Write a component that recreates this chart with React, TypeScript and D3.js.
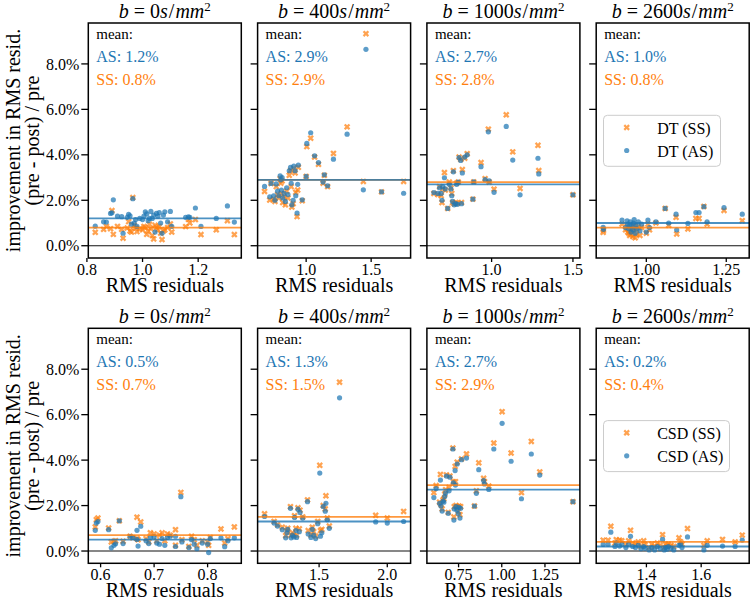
import React from 'react';
import * as d3 from 'd3';

// ---------- data ----------
const bValues = [0, 400, 1000, 2600];
const rowModels = ['DT', 'CSD'];
const meanAS = [[1.2, 2.9, 2.7, 1.0], [0.5, 1.3, 2.7, 0.2]];
const meanSS = [[0.8, 2.9, 2.8, 0.8], [0.7, 1.5, 2.9, 0.4]];
const xTicks = [
  [[0.8, 1.0, 1.2], [1.0, 1.5], [1.0, 1.5], [1.0, 1.25]],
  [[0.6, 0.7, 0.8], [1.5, 2.0], [0.75, 1.0, 1.25], [1.4, 1.6]],
];
const xTickDecimals = [[1, 1, 1, 2], [1, 1, 2, 1]];
const yTicks = [0, 2, 4, 6, 8];

// DT, b=0
const dtB0Rms = [0.83, 0.86, 0.87, 0.885, 0.89, 0.895, 0.91, 0.925, 0.93, 0.945, 0.95, 0.955, 0.96, 0.965, 0.97, 0.975, 0.98, 0.99, 1.0, 1.005, 1.01, 1.015, 1.02, 1.025, 1.03, 1.035, 1.04, 1.045, 1.05, 1.055, 1.06, 1.065, 1.07, 1.075, 1.08, 1.09, 1.1, 1.105, 1.155, 1.165, 1.17, 1.19, 1.21, 1.265, 1.305, 1.33];
const dtB0AS = [0.86, 1.05, 1.04, 1.42, 1.45, 2.02, 1.3, 1.28, 0.55, 1.25, 1.38, 1.32, 0.95, 2.07, 1.0, 1.15, 0.85, 1.2, 1.15, 1.3, 1.49, 1.4, 1.1, 1.2, 1.51, 1.2, 1.35, 0.6, 1.42, 1.3, 1.46, 1.0, 0.55, 1.35, 1.49, 1.05, 1.51, 0.85, 1.25, 1.27, 1.25, 1.66, 0.85, 1.2, 1.75, 1.04];
const dtB0SS = [0.59, 0.72, 0.85, 0.75, 1.55, 0.5, 0.85, 0.72, 0.33, 0.78, 1.06, 0.65, 0.6, 2.12, 0.9, 0.78, 0.62, 0.75, 0.7, 0.85, 0.8, 0.5, 0.65, 0.95, 0.75, 0.45, 0.3, 0.9, 0.8, 0.7, 0.85, 0.55, 0.27, 0.65, 0.7, 0.8, 0.96, 0.6, 0.84, 1.16, 1.0, 1.15, 0.49, 0.7, 1.1, 0.49];

// DT, b=400
const dtB400Rms = [0.68, 0.72, 0.73, 0.75, 0.76, 0.77, 0.78, 0.79, 0.8, 0.805, 0.81, 0.815, 0.82, 0.83, 0.84, 0.85, 0.86, 0.87, 0.88, 0.885, 0.89, 0.9, 0.905, 0.915, 0.92, 0.93, 0.935, 0.94, 0.97, 1.0, 1.005, 1.035, 1.065, 1.095, 1.13, 1.14, 1.165, 1.21, 1.315, 1.44, 1.46, 1.58, 1.75];
const dtB400AS = [2.61, 2.15, 2.74, 2.2, 2.0, 2.72, 2.4, 2.2, 3.08, 2.9, 2.45, 3.0, 2.1, 2.3, 1.95, 2.55, 2.25, 3.3, 3.45, 2.75, 1.8, 2.0, 3.5, 3.3, 2.2, 1.44, 2.7, 3.55, 2.02, 3.05, 4.5, 4.97, 3.96, 3.66, 2.8, 3.12, 2.64, 3.81, 4.91, 2.46, 8.64, 2.37, 2.31];
const dtB400SS = [2.39, 2.01, 2.74, 2.05, 1.95, 2.6, 2.25, 2.1, 2.95, 2.75, 2.3, 2.85, 1.9, 2.15, 1.8, 2.4, 2.1, 3.1, 3.3, 2.6, 1.7, 1.85, 3.4, 3.2, 2.35, 1.28, 2.45, 3.45, 1.98, 3.05, 4.36, 4.73, 3.9, 3.58, 2.75, 3.1, 2.6, 4.06, 5.23, 2.83, 9.33, 2.37, 2.83];

// DT, b=1000
const dtB1000Rms = [0.645, 0.67, 0.68, 0.69, 0.695, 0.7, 0.71, 0.715, 0.73, 0.74, 0.75, 0.755, 0.76, 0.765, 0.77, 0.78, 0.785, 0.79, 0.795, 0.8, 0.81, 0.815, 0.82, 0.835, 0.85, 0.885, 0.89, 0.935, 0.96, 0.98, 0.985, 1.015, 1.09, 1.13, 1.175, 1.285, 1.29, 1.5];
const dtB1000AS = [2.34, 2.3, 2.55, 2.3, 2.0, 2.6, 2.99, 2.5, 1.64, 2.7, 2.5, 2.2, 1.95, 3.25, 1.8, 1.85, 2.7, 1.82, 2.8, 3.88, 3.75, 1.85, 3.2, 3.9, 4.0, 2.05, 2.81, 3.48, 2.91, 5.01, 2.85, 2.35, 5.25, 3.77, 2.24, 3.85, 3.16, 2.24];
const dtB1000SS = [2.3, 2.25, 2.6, 2.2, 1.9, 2.5, 3.22, 2.45, 1.64, 2.8, 2.55, 2.3, 1.9, 3.3, 1.85, 1.9, 2.75, 1.87, 2.8, 3.9, 3.8, 1.9, 3.35, 3.85, 4.05, 2.05, 2.81, 3.66, 2.95, 5.13, 2.8, 2.49, 5.76, 4.13, 2.52, 4.42, 3.31, 2.24];

// DT, b=2600
const dtB2600Rms = [0.865, 0.866, 0.924, 0.935, 0.94, 0.942, 0.945, 0.948, 0.95, 0.952, 0.955, 0.958, 0.96, 0.962, 0.965, 0.968, 0.97, 0.975, 0.98, 0.985, 1.0, 1.005, 1.01, 1.03, 1.059, 1.07, 1.093, 1.095, 1.13, 1.155, 1.165, 1.18, 1.19, 1.243, 1.3];
const dtB2600AS = [0.81, 0.72, 1.13, 0.8, 1.1, 0.95, 0.75, 0.9, 1.05, 0.6, 0.85, 0.7, 1.0, 1.15, 0.55, 0.9, 0.75, 1.05, 0.65, 0.95, 0.6, 1.13, 0.8, 1.05, 1.64, 1.0, 1.39, 0.7, 0.98, 1.46, 1.46, 1.72, 1.05, 1.68, 1.39];
const dtB2600SS = [0.59, 0.68, 0.95, 0.7, 0.85, 0.6, 0.55, 0.45, 0.8, 0.5, 0.65, 0.4, 0.75, 0.9, 0.35, 0.7, 0.5, 0.85, 0.45, 0.8, 0.55, 0.95, 0.7, 1.0, 1.64, 0.9, 1.25, 0.52, 0.74, 1.2, 1.2, 1.73, 0.95, 1.55, 1.1];

// CSD, b=0
const csdB0Rms = [0.59, 0.592, 0.595, 0.615, 0.62, 0.625, 0.628, 0.635, 0.642, 0.655, 0.66, 0.668, 0.668, 0.67, 0.675, 0.685, 0.69, 0.693, 0.7, 0.705, 0.71, 0.715, 0.72, 0.725, 0.73, 0.74, 0.74, 0.75, 0.752, 0.765, 0.77, 0.775, 0.78, 0.79, 0.8, 0.802, 0.805, 0.825, 0.832, 0.838, 0.85];
const csdB0AS = [0.91, 1.23, 1.3, 0.94, 0.14, 0.25, 0.32, 1.33, 0.33, 0.65, 0.6, 0.91, 0.51, 0.22, 1.09, 0.45, 0.33, 0.6, 0.62, 0.35, 0.3, 0.55, 0.25, 0.6, 0.65, 0.65, 0.2, 2.39, 0.4, 0.15, 0.5, 0.3, 0.1, 0.35, 0.3, -0.07, 0.55, 0.58, 0.19, 0.45, 0.58];
const csdB0SS = [1.06, 1.38, 1.45, 1.01, 0.4, 0.42, 0.45, 1.33, 0.43, 0.65, 0.58, 1.49, 0.55, 0.5, 1.28, 0.55, 0.4, 0.8, 0.75, 0.45, 0.7, 0.8, 0.45, 0.75, 0.7, 0.94, 0.25, 2.58, 0.5, 0.2, 0.65, 0.5, 0.25, 0.45, 0.4, 0.25, 0.6, 0.97, 0.35, 0.55, 1.06];

// CSD, b=400
const csdB400Rms = [1.1, 1.17, 1.195, 1.23, 1.255, 1.265, 1.27, 1.29, 1.295, 1.305, 1.315, 1.32, 1.33, 1.335, 1.345, 1.355, 1.36, 1.38, 1.415, 1.42, 1.44, 1.45, 1.46, 1.475, 1.49, 1.505, 1.51, 1.52, 1.53, 1.545, 1.55, 1.56, 1.575, 1.65, 1.915, 2.0, 2.12];
const csdB400AS = [1.52, 1.23, 1.1, 0.94, 0.58, 0.8, 0.95, 1.88, 0.58, 0.7, 0.62, 1.48, 0.9, 0.6, 1.84, 0.85, 1.7, 1.45, 2.17, 0.75, 0.6, 0.95, 0.7, 0.55, 1.2, 3.43, 0.65, 0.8, 1.96, 1.75, 2.1, 1.38, 1.0, 6.74, 1.28, 1.23, 1.3];
const csdB400SS = [1.64, 1.3, 1.15, 1.05, 0.68, 0.9, 1.0, 1.95, 0.7, 0.8, 0.68, 1.55, 1.0, 0.7, 1.9, 0.98, 1.8, 1.5, 2.25, 0.9, 0.7, 1.05, 0.85, 0.65, 1.3, 3.77, 0.9, 0.95, 2.0, 1.85, 2.43, 1.45, 1.1, 7.43, 1.57, 1.45, 1.74];

// CSD, b=1000
const csdB1000Rms = [0.607, 0.62, 0.64, 0.645, 0.648, 0.655, 0.66, 0.665, 0.67, 0.675, 0.68, 0.69, 0.695, 0.7, 0.717, 0.72, 0.723, 0.725, 0.73, 0.732, 0.735, 0.74, 0.742, 0.748, 0.752, 0.758, 0.762, 0.767, 0.796, 0.842, 0.853, 0.867, 0.895, 0.9, 0.925, 0.954, 1.002, 1.054, 1.114, 1.171, 1.22, 1.412];
const csdB1000AS = [2.35, 2.75, 2.1, 3.12, 1.98, 1.76, 2.2, 2.15, 2.4, 2.55, 3.3, 1.66, 2.65, 3.25, 4.49, 3.0, 1.36, 1.85, 3.54, 2.9, 1.95, 1.8, 3.83, 1.65, 1.92, 1.45, 1.88, 4.02, 4.09, 1.98, 2.54, 3.58, 3.1, 2.95, 2.71, 4.49, 5.62, 3.95, 2.3, 4.27, 3.34, 2.17];
const csdB1000SS = [2.57, 2.88, 2.15, 3.37, 2.05, 1.85, 2.25, 2.3, 2.5, 2.7, 3.35, 1.7, 2.8, 3.3, 4.53, 3.05, 1.5, 1.95, 3.72, 3.05, 2.0, 1.95, 3.91, 1.75, 1.98, 1.6, 1.95, 4.05, 4.27, 1.98, 2.65, 3.88, 3.2, 3.05, 2.86, 4.75, 6.13, 4.31, 2.57, 4.82, 3.48, 2.17];

// CSD, b=2600
const csdB2600Rms = [1.242, 1.26, 1.27, 1.285, 1.29, 1.302, 1.31, 1.325, 1.335, 1.342, 1.35, 1.36, 1.37, 1.38, 1.39, 1.395, 1.41, 1.42, 1.43, 1.44, 1.45, 1.459, 1.465, 1.47, 1.475, 1.48, 1.49, 1.5, 1.519, 1.525, 1.53, 1.55, 1.61, 1.622, 1.678, 1.724, 1.75];
const csdB2600AS = [0.29, 0.3, 0.83, 0.2, 0.35, 0.22, 0.3, 0.15, 0.3, 0.65, 0.2, 0.15, 0.25, 0.1, 0.2, 0.12, 0.05, 0.15, 0.05, 0.2, 0.1, 0.51, 0.05, 0.15, 0.08, 0.2, 0.12, 0.05, 0.25, 0.3, 0.15, 0.62, 0.05, 0.25, 0.22, 0.2, 0.48];
const csdB2600SS = [0.48, 0.48, 1.09, 0.35, 0.5, 0.48, 0.45, 0.3, 0.45, 0.91, 0.35, 0.3, 0.4, 0.2, 0.45, 0.28, 0.15, 0.3, 0.2, 0.35, 0.25, 0.72, 0.15, 0.3, 0.2, 0.3, 0.25, 0.2, 0.58, 0.4, 0.3, 0.99, 0.25, 0.45, 0.51, 0.4, 0.7];

const panelRms = [
  [dtB0Rms, dtB400Rms, dtB1000Rms, dtB2600Rms],
  [csdB0Rms, csdB400Rms, csdB1000Rms, csdB2600Rms],
];
const panelAS = [
  [dtB0AS, dtB400AS, dtB1000AS, dtB2600AS],
  [csdB0AS, csdB400AS, csdB1000AS, csdB2600AS],
];
const panelSS = [
  [dtB0SS, dtB400SS, dtB1000SS, dtB2600SS],
  [csdB0SS, csdB400SS, csdB1000SS, csdB2600SS],
];

// ---------- layout ----------
const W = 750;
const H = 600;
const panelLeft0 = 88.3;
const panelStep = 169.3;
const panelW = 153;
const rowTops = [23, 328.3];
const panelH = 235;
const BLUE = '#1f77b4';
const ORANGE = '#ff7f0e';
const FONT =
  "'Liberation Serif', 'DejaVu Serif', 'Tinos', 'Noto Serif', 'FreeSerif', 'Nimbus Roman', 'Times New Roman', Times, serif";
const fontStyle = { fontFamily: FONT };

function padDomain(vals: number[]): [number, number] {
  const [lo, hi] = d3.extent(vals) as [number, number];
  const m = (hi - lo) * 0.05;
  return [lo - m, hi + m];
}

const allY: number[] = [];
panelAS.forEach((r) => r.forEach((a) => allY.push(...a)));
panelSS.forEach((r) => r.forEach((a) => allY.push(...a)));
const yDomain = padDomain(allY);

const xPath = d3.symbol().type(d3.symbolCross).size(26)() as string;

function Title({ cx, y, b }: { cx: number; y: number; b: number }) {
  return (
    <text x={cx} y={y} textAnchor="middle" fontSize={20} style={fontStyle}>
      <tspan fontStyle="italic">b</tspan>
      <tspan dx={5}>=</tspan>
      <tspan dx={5}>{b}</tspan>
      <tspan fontStyle="italic">s</tspan>
      <tspan dx={1}>/</tspan>
      <tspan dx={1} fontStyle="italic">mm</tspan>
      <tspan dy={-7} fontSize={13}>2</tspan>
    </text>
  );
}

function Panel({ row, col }: { row: number; col: number }) {
  const left = panelLeft0 + col * panelStep;
  const top = rowTops[row];
  const rms = panelRms[row][col];
  const as = panelAS[row][col];
  const ss = panelSS[row][col];
  const x = d3.scaleLinear().domain(padDomain(rms)).range([left, left + panelW]);
  const y = d3.scaleLinear().domain(yDomain).range([top + panelH, top]);
  const dec = xTickDecimals[row][col];
  const fmtX = d3.format(`.${dec}f`);
  const fmtY = (v: number) => d3.format('.1f')(v) + '%';
  const bottom = top + panelH;
  const model = rowModels[row];
  const legW = 54 + 9 * (model.length + 5);
  return (
    <g>
      <defs>
        <clipPath id={`clip-${row}-${col}`}>
          <rect x={left} y={top} width={panelW} height={panelH} />
        </clipPath>
      </defs>
      <Title cx={left + panelW / 2} y={top - 5} b={bValues[col]} />
      <g clipPath={`url(#clip-${row}-${col})`}>
        <line x1={left} x2={left + panelW} y1={y(0)} y2={y(0)} stroke="#111" strokeWidth={1.1} />
        {rms.map((r, i) => (
          <path key={`s${i}`} d={xPath} transform={`translate(${x(r)},${y(ss[i])}) rotate(45)`} fill={ORANGE} fillOpacity={0.72} />
        ))}
        {rms.map((r, i) => (
          <circle key={`a${i}`} cx={x(r)} cy={y(as[i])} r={2.6} fill={BLUE} fillOpacity={0.72} />
        ))}
        <line x1={left} x2={left + panelW} y1={y(meanSS[row][col])} y2={y(meanSS[row][col])} stroke={ORANGE} strokeWidth={1.8} strokeOpacity={0.8} />
        <line x1={left} x2={left + panelW} y1={y(meanAS[row][col])} y2={y(meanAS[row][col])} stroke={BLUE} strokeWidth={1.8} strokeOpacity={0.8} />
      </g>
      <rect x={left} y={top} width={panelW} height={panelH} fill="none" stroke="#000" strokeWidth={1.5} />
      {yTicks.map((t) => (
        <g key={`yt${t}`}>
          <line x1={left - 7} x2={left} y1={y(t)} y2={y(t)} stroke="#000" strokeWidth={1.3} />
          {col === 0 && (
            <text x={left - 9} y={y(t)} dy="0.35em" textAnchor="end" fontSize={16} style={fontStyle}>
              {fmtY(t)}
            </text>
          )}
        </g>
      ))}
      {xTicks[row][col].map((t) => (
        <g key={`xt${t}`}>
          <line x1={x(t)} x2={x(t)} y1={bottom} y2={bottom + 4} stroke="#000" strokeWidth={1.3} />
          <text x={x(t)} y={bottom + 17} textAnchor="middle" fontSize={16} style={fontStyle}>
            {fmtX(t)}
          </text>
        </g>
      ))}
      <text x={left + panelW / 2} y={bottom + 34} textAnchor="middle" fontSize={20} style={fontStyle}>
        RMS residuals
      </text>
      <text x={left + 8} y={top + 15.5} fontSize={15} style={fontStyle} fill="#000">mean:</text>
      <text x={left + 8} y={top + 38.7} fontSize={16} style={fontStyle} fill={BLUE}>
        {`AS: ${meanAS[row][col].toFixed(1)}%`}
      </text>
      <text x={left + 8} y={top + 62} fontSize={16} style={fontStyle} fill={ORANGE}>
        {`SS: ${meanSS[row][col].toFixed(1)}%`}
      </text>
      {col === 3 && (
        <g>
          <rect x={left + 7.3} y={top + 92.3} width={legW} height={51} rx={4} fill="#fff" fillOpacity={0.8} stroke="#ccc" strokeWidth={1} />
          <path d={xPath} transform={`translate(${left + 30.5},${top + 104.5}) rotate(45)`} fill={ORANGE} fillOpacity={0.72} />
          <text x={left + 61} y={top + 110.5} fontSize={16} style={fontStyle}>{`${model} (SS)`}</text>
          <circle cx={left + 30.5} cy={top + 127.5} r={2.6} fill={BLUE} fillOpacity={0.72} />
          <text x={left + 61} y={top + 133.5} fontSize={16} style={fontStyle}>{`${model} (AS)`}</text>
        </g>
      )}
    </g>
  );
}

export default function App() {
  return (
    <svg width={W} height={H} style={{ position: 'absolute', left: 0, top: 0, background: '#fff' }}>
      <rect x={0} y={0} width={W} height={H} fill="#fff" />
      {[0, 1].map((row) => (
        <g key={row}>
          {[0, 1, 2, 3].map((col) => (
            <Panel key={col} row={row} col={col} />
          ))}
          <text
            transform={`translate(20,${rowTops[row] + panelH / 2}) rotate(-90)`}
            textAnchor="middle"
            fontSize={20}
            style={fontStyle}
          >
            improvement in RMS resid.
          </text>
          <text
            transform={`translate(39,${rowTops[row] + panelH / 2}) rotate(-90)`}
            textAnchor="middle"
            fontSize={20}
            style={fontStyle}
          >
            (pre - post) / pre
          </text>
        </g>
      ))}
    </svg>
  );
}
